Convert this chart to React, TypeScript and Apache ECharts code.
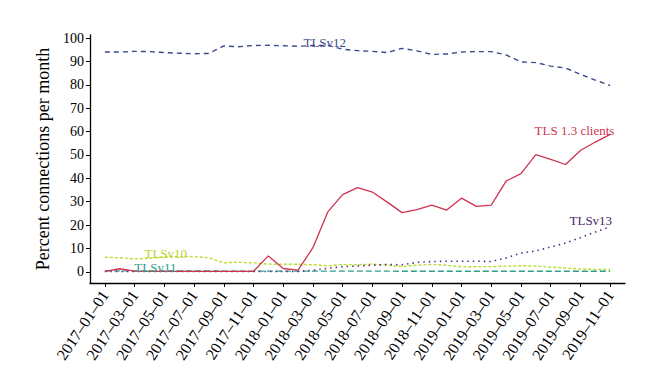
import React, { useEffect, useRef } from "react";
import * as echarts from "echarts";

const months: string[] = [
  "2017–01–01", "2017–02–01", "2017–03–01", "2017–04–01", "2017–05–01", "2017–06–01",
  "2017–07–01", "2017–08–01", "2017–09–01", "2017–10–01", "2017–11–01", "2017–12–01",
  "2018–01–01", "2018–02–01", "2018–03–01", "2018–04–01", "2018–05–01", "2018–06–01",
  "2018–07–01", "2018–08–01", "2018–09–01", "2018–10–01", "2018–11–01", "2018–12–01",
  "2019–01–01", "2019–02–01", "2019–03–01", "2019–04–01", "2019–05–01", "2019–06–01",
  "2019–07–01", "2019–08–01", "2019–09–01", "2019–10–01", "2019–11–01",
];

const tlsv12: number[] = [
  94.0, 94.0, 94.3, 94.2, 93.8, 93.5, 93.3, 93.4, 96.6, 96.3, 96.8, 96.9,
  96.7, 96.5, 96.8, 96.9, 95.2, 94.6, 94.3, 93.8, 95.6, 94.5, 93.0, 93.2,
  94.0, 94.2, 94.2, 92.8, 89.8, 89.5, 88.0, 87.2, 84.5, 82.0, 79.7,
];

const tls13Clients: number[] = [
  0.2, 1.3, 0.3, 0.2, 0.2, 0.2, 0.2, 0.2, 0.2, 0.2, 0.2, 6.8,
  1.4, 0.7, 10.3, 25.6, 33.0, 36.0, 34.1, 29.8, 25.3, 26.6, 28.5, 26.4,
  31.5, 28.0, 28.5, 38.8, 42.0, 50.1, 48.1, 45.9, 51.9, 55.5, 58.8,
];

const tlsv13: number[] = [
  0.1, 0.1, 0.1, 0.1, 0.1, 0.1, 0.1, 0.1, 0.1, 0.1, 0.1, 0.1,
  0.1, 0.1, 0.6, 1.5, 2.2, 2.5, 2.8, 3.1, 3.0, 4.0, 4.4, 4.5,
  4.5, 4.5, 4.4, 5.9, 8.0, 8.9, 10.6, 12.3, 14.6, 17.0, 19.3,
];

const tlsv10: number[] = [
  6.2, 6.0, 5.5, 5.8, 6.3, 6.5, 6.5, 6.0, 3.8, 4.1, 3.8, 3.3,
  3.2, 3.2, 3.0, 2.6, 3.1, 3.0, 3.3, 2.9, 2.2, 2.8, 3.2, 2.8,
  2.1, 2.2, 2.2, 2.4, 2.6, 2.4, 2.0, 1.6, 1.2, 1.0, 1.0,
];

const tlsv11: number[] = [
  0.4, 0.4, 0.4, 0.4, 0.4, 0.4, 0.4, 0.4, 0.3, 0.3, 0.3, 0.3,
  0.3, 0.3, 0.3, 0.3, 0.3, 0.3, 0.3, 0.3, 0.2, 0.2, 0.2, 0.2,
  0.2, 0.2, 0.2, 0.2, 0.2, 0.2, 0.2, 0.2, 0.2, 0.2, 0.2,
];

const xTickIndices: number[] = [0, 2, 4, 6, 8, 10, 12, 14, 16, 18, 20, 22, 24, 26, 28, 30, 32, 34];
const yTicks: number[] = [0, 10, 20, 30, 40, 50, 60, 70, 80, 90, 100];

// annotation text anchors in data space: [month index, percent]
const labelTLSv12: [number, number] = [14.8, 98.3];
const labelTLS13Clients: [number, number] = [31.6, 60.5];
const labelTLSv13: [number, number] = [32.7, 22.0];
const labelTLSv10: [number, number] = [4.1, 7.9];
const labelTLSv11: [number, number] = [3.4, 1.9];

const FONT = "'Liberation Serif', 'DejaVu Serif', serif";

function pairs(vals: number[]) {
  return vals.map((v, i) => [i, v]);
}

function annotation(text: string, coord: [number, number], color: string) {
  return {
    silent: true,
    symbol: "circle",
    symbolSize: 0,
    animation: false,
    data: [
      {
        coord,
        label: {
          show: true,
          position: "inside",
          formatter: text,
          color,
          fontSize: 13,
          fontFamily: FONT,
        },
        itemStyle: { color: "transparent" },
      },
    ],
  };
}

function lineSeries(name: string, vals: number[], color: string, type: any, width: number, labelText: string, coord: [number, number], labelColor: string) {
  return {
    name,
    type: "line",
    data: pairs(vals),
    showSymbol: false,
    symbol: "none",
    smooth: false,
    silent: true,
    lineStyle: { color, width, type },
    emphasis: { disabled: true },
    markPoint: annotation(labelText, coord, labelColor),
  };
}

export default function App() {
  const ref = useRef<HTMLDivElement>(null);
  useEffect(() => {
    if (!ref.current) return;
    const chart = echarts.init(ref.current, null, { renderer: "svg" });
    chart.setOption({
      animation: false,
      backgroundColor: "#ffffff",
      grid: { left: 90, right: 20, top: 35, bottom: 108, containLabel: false },
      xAxis: {
        type: "value",
        min: -1,
        max: 35,
        splitLine: { show: false },
        axisLine: { show: true, onZero: false, lineStyle: { color: "#000", width: 1.3 } },
        axisTick: { show: true, customValues: xTickIndices, length: 4, lineStyle: { color: "#000", width: 1 } },
        axisLabel: {
          customValues: xTickIndices,
          formatter: (v: number) => months[Math.round(v)] ?? "",
          rotate: 56,
          color: "#000",
          fontSize: 16,
          fontFamily: FONT,
          margin: 9,
        },
      },
      yAxis: {
        type: "value",
        min: -4.8,
        max: 101.3,
        name: "Percent connections per month",
        nameLocation: "middle",
        nameRotate: 90,
        nameGap: 38,
        nameTextStyle: { color: "#000", fontSize: 18, fontFamily: FONT },
        splitLine: { show: false },
        axisLine: { show: true, onZero: false, lineStyle: { color: "#000", width: 1.3 } },
        axisTick: { show: true, customValues: yTicks, length: 4, lineStyle: { color: "#000", width: 1 } },
        axisLabel: {
          customValues: yTicks,
          color: "#000",
          fontSize: 14,
          fontFamily: FONT,
          margin: 6,
        },
      },
      series: [
        lineSeries("TLSv10", tlsv10, "#b8dd2e", [3, 2], 1.4, "TLSv10", labelTLSv10, "#b3d62a"),
        lineSeries("TLSv11", tlsv11, "#2f9e8a", [6, 3], 1.4, "TLSv11", labelTLSv11, "#2f9e8a"),
        lineSeries("TLSv12", tlsv12, "#3d4a8c", [5, 4], 1.4, "TLSv12", labelTLSv12, "#3d4a8c"),
        lineSeries("TLSv13", tlsv13, "#5a2d8a", [1.5, 4], 1.6, "TLSv13", labelTLSv13, "#4a2670"),
        lineSeries("TLS 1.3 clients", tls13Clients, "#cf3350", "solid", 1.3, "TLS 1.3 clients", labelTLS13Clients, "#cf3350"),
      ],
    });
    return () => chart.dispose();
  }, []);
  return <div ref={ref} style={{ position: "absolute", left: 0, top: 0, width: 645, height: 391 }} />;
}
